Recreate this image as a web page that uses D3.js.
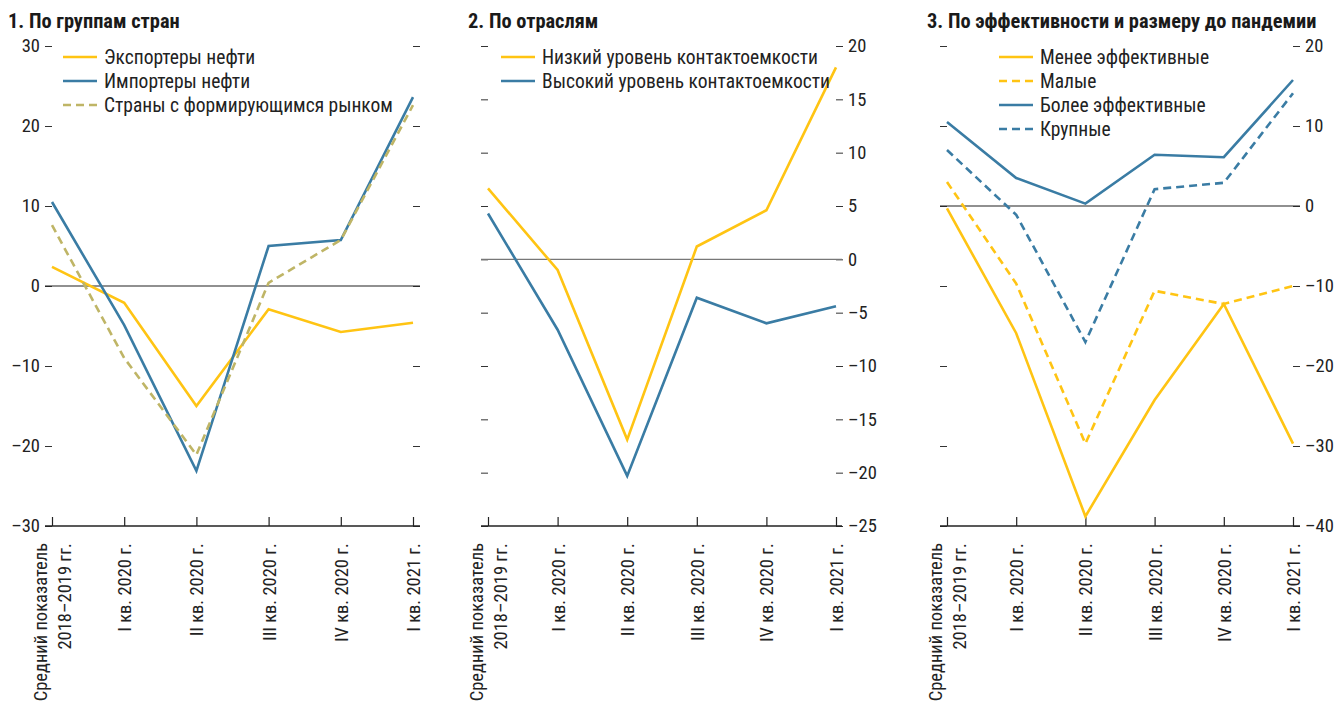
<!DOCTYPE html>
<html><head><meta charset="utf-8">
<script src="https://cdn.jsdelivr.net/npm/d3@7"></script>
<style>
body{margin:0;background:#fff;}
svg{display:block;font-family:"Liberation Sans Narrow","Arial Narrow","Roboto Condensed","Liberation Sans",sans-serif;}
</style></head><body>
<svg id="c" width="1338" height="709"></svg>
<script>
const categories = ["Средний показатель|2018–2019 гг.","I кв. 2020 г.","II кв. 2020 г.","III кв. 2020 г.","IV кв. 2020 г.","I кв. 2021 г."];

// Panel 1
const p1Exporters = [2.4, -2.1, -15.0, -2.9, -5.75, -4.6];
const p1Importers = [10.5, -4.9, -23.1, 5.0, 5.75, 23.6];
const p1Emerging  = [7.6, -9.0, -21.1, 0.4, 5.75, 22.6];
const p1Ticks = [-30, -20, -10, 0, 10, 20, 30];

// Panel 2
const p2Low  = [6.65, -1.0, -16.9, 1.2, 4.6, 18.0];
const p2High = [4.3, -6.6, -20.3, -3.6, -6.0, -4.4];
const p2Ticks = [-25, -20, -15, -10, -5, 0, 5, 10, 15, 20];

// Panel 3
const p3LessEff = [-0.3, -15.9, -38.8, -24.25, -12.25, -29.7];
const p3Small   = [3.0, -9.7, -29.7, -10.6, -12.25, -10.0];
const p3MoreEff = [10.5, 3.5, 0.3, 6.4, 6.1, 15.75];
const p3Large   = [7.0, -1.1, -17.0, 2.1, 2.9, 14.1];
const p3Ticks = [-40, -30, -20, -10, 0, 10, 20];

const YEL = "#FFC413", BLU = "#3A7CA4", OLV = "#BFB566";
const svg = d3.select("#c");

const panels = [
  {title:"1. По группам стран", tx:8, x0:45, x1:420, xa:52, xb:413, dom:[-30,30], ticks:p1Ticks, labelSide:"left", zeroCol:"#222",
   series:[{name:"Экспортеры нефти", v:p1Exporters, c:YEL, dash:null},
           {name:"Импортеры нефти", v:p1Importers, c:BLU, dash:null},
           {name:"Страны с формирующимся рынком", v:p1Emerging, c:OLV, dash:"8,5"}],
   lg:{x:63, y:57}},
  {title:"2. По отраслям", tx:468, x0:481, x1:842, xa:488, xb:836, dom:[-25,20], ticks:p2Ticks, labelSide:"right", zeroCol:"#777",
   series:[{name:"Низкий уровень контактоемкости", v:p2Low, c:YEL, dash:null},
           {name:"Высокий уровень контактоемкости", v:p2High, c:BLU, dash:null}],
   lg:{x:501, y:57}},
  {title:"3. По эффективности и размеру до пандемии", tx:927, x0:940, x1:1300, xa:947, xb:1293, dom:[-40,20], ticks:p3Ticks, labelSide:"right", zeroCol:"#222",
   series:[{name:"Менее эффективные", v:p3LessEff, c:YEL, dash:null},
           {name:"Малые", v:p3Small, c:YEL, dash:"8,5"},
           {name:"Более эффективные", v:p3MoreEff, c:BLU, dash:null},
           {name:"Крупные", v:p3Large, c:BLU, dash:"8,5"}],
   lg:{x:999, y:57}}
];

const yTop = 46, yBot = 526;
const fmt = d => d < 0 ? "–" + Math.abs(d) : String(d);

panels.forEach(p => {
  const g = svg.append("g");
  const x = d3.scalePoint().domain(categories).range([p.xa, p.xb]);
  const y = d3.scaleLinear().domain(p.dom).range([yBot, yTop]);

  g.append("text").attr("x", p.tx).attr("y", 28).attr("font-weight", "bold")
    .attr("font-size", 20.4).attr("fill", "#1a1a1a").text(p.title);

  const la = d3.axisLeft(y).tickValues(p.ticks).tickSize(7).tickPadding(5)
    .tickFormat(p.labelSide === "left" ? fmt : "");
  const lg = g.append("g").attr("transform", `translate(${p.xa},0)`).call(la);
  const ra = d3.axisRight(y).tickValues(p.ticks).tickSize(7).tickPadding(5)
    .tickFormat(p.labelSide === "right" ? fmt : "");
  const rg = g.append("g").attr("transform", `translate(${p.xb},0)`).call(ra);
  [lg, rg].forEach(a => {
    a.attr("font-family", null).attr("font-size", null);
    a.select(".domain").remove();
    a.selectAll(".tick line").attr("stroke", "#333").attr("stroke-width", 1);
    a.selectAll(".tick text").attr("font-size", 18.5).attr("fill", "#222");
  });

  g.append("line").attr("x1", p.x0).attr("x2", p.x1).attr("y1", y(0)).attr("y2", y(0))
    .attr("stroke", p.zeroCol).attr("stroke-width", 1.2);

  const ba = d3.axisBottom(x).tickSize(-9).tickFormat("");
  const bg = g.append("g").attr("transform", `translate(0,${yBot})`).call(ba);
  bg.attr("font-family", null).attr("font-size", null);
  bg.select(".domain").remove();
  bg.selectAll(".tick line").attr("stroke", "#222").attr("stroke-width", 1.2);
  g.append("line").attr("x1", p.x0).attr("x2", p.x1).attr("y1", yBot).attr("y2", yBot)
    .attr("stroke", "#222").attr("stroke-width", 1.5);
  bg.selectAll(".tick").each(function(d) {
    const parts = d.split("|");
    const t = d3.select(this).append("text")
      .attr("transform", "translate(0,17) rotate(-90)")
      .attr("text-anchor", "end").attr("font-size", 18.5).attr("fill", "#222");
    parts.forEach((s, i) => {
      const off = (i - (parts.length - 1) / 2) * 1.3 + 0.35;
      t.append("tspan").attr("x", 0).attr("y", 0).attr("dy", off + "em").text(s);
    });
  });

  const line = d3.line().x((d, i) => x(categories[i])).y(d => y(d));
  p.series.forEach(s => {
    g.append("path").datum(s.v).attr("d", line).attr("fill", "none")
      .attr("stroke", s.c).attr("stroke-width", 2.6)
      .attr("stroke-dasharray", s.dash).attr("stroke-linejoin", "miter");
  });

  p.series.forEach((s, i) => {
    const ly = p.lg.y + i * 24;
    g.append("line").attr("x1", p.lg.x).attr("x2", p.lg.x + 34).attr("y1", ly).attr("y2", ly)
      .attr("stroke", s.c).attr("stroke-width", 2.6).attr("stroke-dasharray", s.dash);
    g.append("text").attr("x", p.lg.x + 41).attr("y", ly).attr("dy", "0.35em")
      .attr("font-size", 19.5).attr("fill", "#222").text(s.name);
  });
});
</script></body></html>
